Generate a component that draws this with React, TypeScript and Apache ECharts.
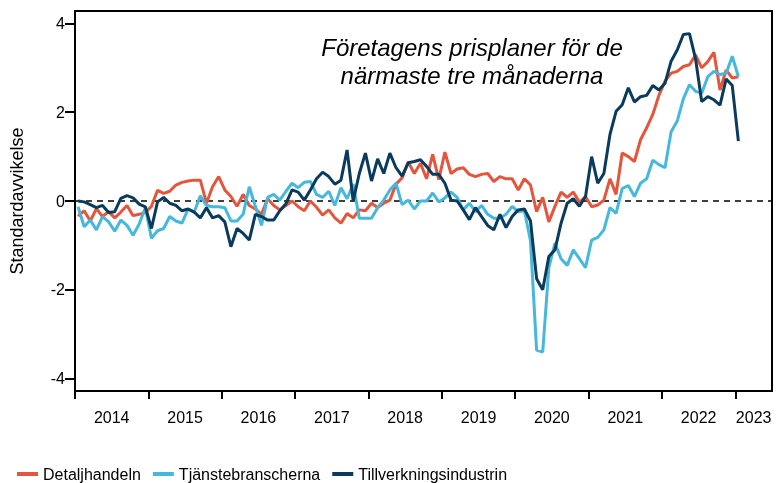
import React, { useEffect, useRef } from "react";
import * as echarts from "echarts";

const startYear = 2014;
const seriesNames = ["Detaljhandeln", "Tjänstebranscherna", "Tillverkningsindustrin"];
const yearLabels = ["2014", "2015", "2016", "2017", "2018", "2019", "2020", "2021", "2022", "2023"];
const yTickValues = [-4, -2, 0, 2, 4];

// Monthly values, Jan 2014 - Jan 2023
const detaljhandeln = [
  -0.34, -0.22, -0.45, -0.17, -0.35, -0.24, -0.38, -0.25, -0.1, -0.33, -0.3, -0.26,
  -0.12, 0.24, 0.17, 0.22, 0.36, 0.42, 0.45, 0.47, 0.47, -0.05, 0.32, 0.55,
  0.25, 0.1, -0.12, 0.15, -0.1, -0.18, -0.3, 0.05, -0.1, -0.2, -0.1, 0.0,
  -0.13, -0.22, 0.0, -0.14, -0.32, -0.2, -0.38, -0.5, -0.28, -0.38, -0.2, -0.22,
  -0.05, -0.15, -0.05, 0.02, 0.38, 0.52, 0.88, 0.62, 0.85, 0.5, 1.05, 0.48,
  1.1, 0.62, 0.72, 0.75, 0.6, 0.55, 0.6, 0.62, 0.44, 0.55, 0.5, 0.5,
  0.25, 0.5, 0.36, -0.24, 0.08, -0.47, -0.12, 0.2, 0.08, 0.2, -0.03, 0.1,
  -0.13, -0.09, 0.02, 0.5, 0.15, 1.08, 1.0, 0.89, 1.38, 1.65, 1.95, 2.38,
  2.7, 2.88, 2.92, 3.03, 3.07, 3.29, 3.0, 3.14, 3.35, 2.5, 2.95, 2.77,
  2.8,
];

const tjanstebranscherna = [
  -0.13, -0.58, -0.43, -0.65, -0.35, -0.47, -0.68, -0.43, -0.55, -0.77, -0.52, -0.15,
  -0.84, -0.67, -0.62, -0.35, -0.45, -0.5, -0.18, -0.25, 0.12, -0.1, -0.13, -0.13,
  -0.15, -0.45, -0.45, -0.3, 0.32, -0.12, -0.55, 0.08, 0.15, 0.02, 0.22, 0.4,
  0.3, 0.42, 0.44, 0.15, 0.08, 0.22, -0.1, 0.3, 0.05, 0.38, -0.39, -0.39,
  -0.39, -0.15, 0.02, 0.25, 0.4, -0.08, 0.02, -0.18, 0.0, 0.0, 0.18, -0.02,
  0.07, 0.2, 0.08, -0.2, -0.05, -0.24, -0.1, -0.3, -0.39, -0.39, -0.3, -0.12,
  -0.24, -0.22, -0.9, -3.36, -3.4, -1.5, -0.95, -1.3, -1.45, -1.1, -1.3, -1.5,
  -0.88, -0.82, -0.65, -0.15, -0.28, 0.28, 0.35, 0.1, 0.4, 0.5, 0.92, 0.82,
  0.75, 1.56, 1.8, 2.3, 2.62, 2.47, 2.43, 2.8, 2.92, 2.85, 2.88, 3.26,
  2.8,
];

const tillverkningsindustrin = [
  0.0, -0.02, -0.08, -0.15, -0.1, -0.26, -0.24, 0.06, 0.12, 0.07, -0.07, -0.13,
  -0.62, -0.02, 0.08, -0.05, -0.1, -0.22, -0.18, -0.25, -0.38, -0.15, -0.38, -0.33,
  -0.47, -1.03, -0.62, -0.73, -0.88, -0.3, -0.35, -0.43, -0.43, -0.22, -0.06, 0.25,
  0.2, 0.02, 0.25, 0.5, 0.65, 0.55, 0.38, 0.47, 1.15, 0.0, 0.62, 1.08,
  0.45, 0.95, 0.62, 1.08, 0.75, 0.56, 0.86, 0.89, 0.93, 0.78, 0.6, 0.6,
  0.4, 0.02, 0.0, -0.2, -0.42, -0.15, -0.35, -0.55, -0.65, -0.3, -0.6, -0.35,
  -0.2, -0.18, -0.45, -1.75, -2.0, -1.25, -1.1, -0.5, -0.05, 0.05, -0.12, 0.1,
  1.0, 0.4, 0.62, 1.5, 2.02, 2.17, 2.55, 2.23, 2.35, 2.38, 2.6, 2.5,
  2.65, 3.15, 3.4, 3.75, 3.77, 3.2, 2.24, 2.35, 2.28, 2.16, 2.75, 2.6,
  1.35,
];

const colors = ["#E4553B", "#45B8DC", "#0B3B5C"];
const FONT = "'Liberation Sans', Arial, sans-serif";

const X_MIN = startYear;
const X_MAX = 2023.5;

function toPoints(values: number[]) {
  // monthly observations placed mid-month
  return values.map((v, i) => [startYear + (i + 0.5) / 12, v]);
}

export default function App() {
  const ref = useRef<HTMLDivElement>(null);

  useEffect(() => {
    if (!ref.current) return;
    const chart = echarts.init(ref.current, undefined, { renderer: "svg" });

    const yearTicks = yearLabels.map((y) => Number(y));
    const labelPos = yearTicks.map((y) => (y + Math.min(y + 1, X_MAX)) / 2);

    const seriesData = [detaljhandeln, tjanstebranscherna, tillverkningsindustrin];

    chart.setOption({
      animation: false,
      textStyle: { fontFamily: FONT },
      grid: {
        left: 75,
        right: 8,
        top: 11,
        bottom: 92,
        show: true,
        borderColor: "#000",
        borderWidth: 2,
        backgroundColor: "transparent",
      },
      legend: {
        left: 12,
        top: 461,
        icon: "rect",
        itemWidth: 21,
        itemHeight: 4,
        itemGap: 12,
        textStyle: { fontSize: 16, color: "#000", fontFamily: FONT },
        data: seriesNames,
      },
      graphic: [
        {
          type: "text",
          x: 472,
          y: 33,
          style: {
            text: "Företagens prisplaner för de\nnärmaste tre månaderna",
            textAlign: "center",
            fontFamily: FONT,
            fontStyle: "italic",
            fontSize: 24,
            lineHeight: 28,
            fill: "#000",
          },
        },
      ],
      xAxis: {
        type: "value",
        min: X_MIN,
        max: X_MAX,
        axisLine: { show: true, onZero: false, lineStyle: { color: "#000", width: 2 } },
        axisTick: {
          show: true,
          customValues: yearTicks,
          length: 8,
          lineStyle: { color: "#000", width: 2 },
        },
        axisLabel: {
          customValues: labelPos,
          formatter: (v: number) => String(Math.floor(v)),
          color: "#000",
          fontSize: 16,
          margin: 18,
          fontFamily: FONT,
        },
        splitLine: { show: false },
      },
      yAxis: {
        type: "value",
        min: -4.28,
        max: 4.28,
        name: "Standardavvikelse",
        nameLocation: "middle",
        nameRotate: 90,
        nameGap: 49,
        nameTextStyle: { fontSize: 18, color: "#000", fontFamily: FONT },
        axisLine: { show: true, lineStyle: { color: "#000", width: 2 } },
        axisTick: {
          show: true,
          customValues: yTickValues,
          length: 10,
          lineStyle: { color: "#000", width: 2 },
        },
        axisLabel: {
          customValues: yTickValues,
          formatter: (v: number) => String(v),
          color: "#000",
          fontSize: 16,
          margin: 10,
          fontFamily: FONT,
        },
        splitLine: { show: false },
      },
      series: seriesNames.map((name, k) => ({
        name,
        type: "line",
        data: toPoints(seriesData[k]),
        symbol: "none",
        color: colors[k],
        lineStyle: { width: 3, color: colors[k] },
        z: 3 + k,
        markLine:
          k === 0
            ? {
                silent: true,
                symbol: "none",
                label: { show: false },
                lineStyle: { color: "#000", type: [6, 5], width: 1.5 },
                data: [{ yAxis: 0 }],
                z: 1,
              }
            : undefined,
      })),
    });

    return () => chart.dispose();
  }, []);

  return (
    <div
      ref={ref}
      style={{ position: "fixed", left: 0, top: 0, width: 780, height: 483 }}
    />
  );
}
